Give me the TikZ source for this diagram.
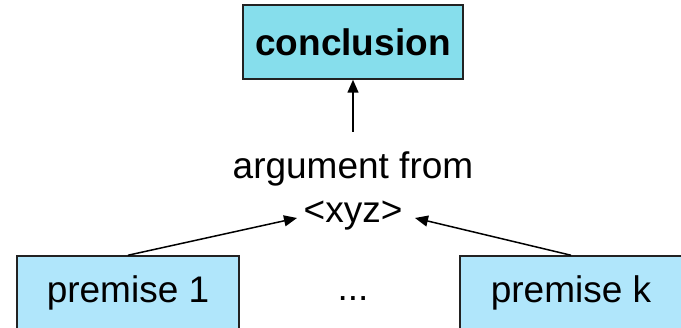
\documentclass[tikz,border=0pt]{standalone}
\usepackage{fontspec}
\setmainfont{Liberation Sans}
\usetikzlibrary{arrows.meta}
\definecolor{concfill}{HTML}{86DEEC}
\definecolor{premfill}{HTML}{B0E6FB}
\definecolor{boxline}{HTML}{222222}
\begin{document}
\begin{tikzpicture}[x=1pt,y=1pt,
  every node/.style={font=\fontsize{37}{44}\selectfont, inner sep=0pt},
  concbox/.style={draw=boxline, line width=1.5pt, fill=concfill, minimum width=220pt, minimum height=74pt, font=\fontsize{37}{44}\selectfont\bfseries},
  prembox/.style={draw=boxline, line width=1.5pt, fill=premfill, minimum width=222pt, minimum height=74pt},
  link/.style={line width=1.5pt, -{Triangle[length=13pt,width=11pt]}}]
\useasboundingbox (0,0) rectangle (681,328);
\begin{scope}
\clip (0,0) rectangle (681,328);
\node[concbox] (c) at (353,286) {conclusion};
\node[prembox] (p1) at (128,35) {premise 1};
\node[prembox] (pk) at (571,35) {premise k};
\node (dots) at (353,29) {...};
\node[align=center] (arg) at (353,137) {argument from\\<xyz>};
\coordinate (argtop) at (353,196);
\coordinate (tipl) at (297,110);
\coordinate (tipr) at (415,110);
\draw[link] (argtop) -- (c.south);
\draw[link] (p1.north) -- (tipl);
\draw[link] (pk.north) -- (tipr);
\end{scope}
\end{tikzpicture}
\end{document}
